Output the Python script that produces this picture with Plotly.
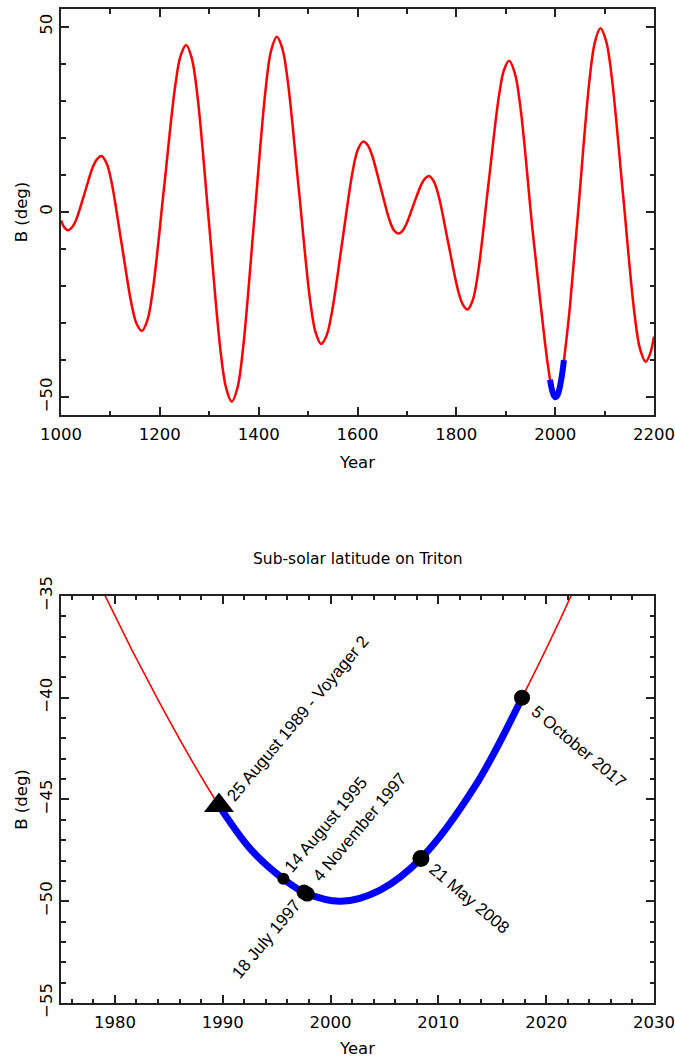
import plotly.graph_objects as go

# ---- Data ----
# Sub-solar latitude B (deg) on Triton vs year (red curve)
years = [1000, 1007, 1014, 1022.4, 1030.9, 1047.8, 1064.6, 1073.1,
         1081.5, 1091.8, 1102.1, 1122.6, 1143.2, 1153.4,
         1163.7, 1174.9, 1186.1, 1208.5, 1230.9, 1242.1,
         1253.3, 1264.8, 1276.4, 1299.5, 1322.5, 1334.1,
         1345.6, 1357.0, 1368.4, 1391.1, 1413.9, 1425.2,
         1436.6, 1447.8, 1459.0, 1481.4, 1503.8, 1515.0,
         1526.2, 1536.9, 1547.5, 1568.9, 1590.2, 1600.8,
         1611.5, 1620.4, 1629.3, 1647.0, 1664.8, 1673.6,
         1682.5, 1690.3, 1698.0, 1713.5, 1729.0, 1736.8,
         1744.5, 1754.3, 1764.1, 1783.6, 1803.2, 1812.9,
         1822.7, 1833.2, 1843.8, 1864.8, 1885.9, 1896.4,
         1906.9, 1918.7, 1930.4, 1954.0, 1970.0, 1979.1, 1984.2,
         1989.65, 1992.6, 1995.62, 1997.7, 2001.0, 2004.6, 2008.38, 2013.4, 2017.76,
         2022.3, 2030.0, 2046.3, 2069.0, 2080.3,
         2091.6, 2103.0, 2114.5, 2137.4, 2160.3, 2171.8,
         2183.2, 2192.0, 2200]
b_deg = [-2.3, -4.2, -4.9, -4.1, -2.0, 5.1, 12.2, 14.3,
         15.1, 13.3, 8.2, -8.5, -25.2, -30.3,
         -32.1, -29.2, -20.8, 6.5, 33.8, 42.2,
         45.1, 41.4, 31.0, -3.0, -37.1, -47.5,
         -51.2, -47.5, -36.8, -2.0, 32.9, 43.6,
         47.3, 44.2, 35.2, 5.9, -23.5, -32.4,
         -35.6, -33.5, -27.6, -8.3, 11.0, 16.9,
         19.0, 18.1, 15.4, 6.6, -2.2, -4.9,
         -5.8, -5.2, -3.5, 2.0, 7.4, 9.1,
         9.7, 8.3, 4.4, -8.3, -21.0, -24.9,
         -26.3, -23.8, -16.5, 7.3, 31.0, 38.3,
         40.8, 37.3, 27.5, -4.6, -24.2, -35.0, -40.3,
         -45.3, -47.45, -48.9, -49.6, -50.0, -49.45, -47.9, -44.35, -40.0,
         -35.0, -25.3, -0.2, 35.0, 45.8,
         49.6, 46.2, 36.4, 4.6, -27.2, -37.0,
         -40.4, -38.3, -33.6]

# Highlighted (blue) stretch: Voyager 2 flyby to October 2017
blue_years = [1989.65, 1992.6, 1995.62, 1997.7, 2001.0, 2004.6, 2008.38, 2013.4, 2017.76]
blue_b = [-45.3, -47.45, -48.9, -49.6, -50.0, -49.45, -47.9, -44.35, -40.0]

# Marked dates
event_years = [1989.65, 1995.62, 1997.54, 1997.84, 2008.38, 2017.76]
event_b = [-45.3, -48.9, -49.55, -49.65, -47.9, -40.0]
event_labels = ["25 August 1989 - Voyager 2", "14 August 1995", "18 July 1997",
                "4 November 1997", "21 May 2008", "5 October 2017"]
event_symbols = ["triangle-up", "circle", "circle", "circle", "circle", "circle"]
event_sizes = [26, 12, 15, 15, 17, 16]
# label placement (pixel offsets of label centre from the point, rotation)
label_dx = [79, 43, -38, 52, 48, 56]
label_dy = [-87, -54, 47, -67, 40, 49]
label_angle = [-50, -50, -50, -50, 40, 40]

TICKFONT = dict(family="DejaVu Sans", size=16.5, color="black")
FRAME = "#222222"

fig = go.Figure()

# top panel
fig.add_trace(go.Scatter(x=years, y=b_deg, mode="lines", xaxis="x", yaxis="y",
                         line=dict(color="#ff0000", width=2.5, shape="spline"),
                         showlegend=False, hoverinfo="skip"))
fig.add_trace(go.Scatter(x=blue_years, y=blue_b, mode="lines", xaxis="x", yaxis="y",
                         line=dict(color="#0000ff", width=6, shape="spline"),
                         showlegend=False, hoverinfo="skip"))

# bottom panel
fig.add_trace(go.Scatter(x=years, y=b_deg, mode="lines", xaxis="x2", yaxis="y2",
                         line=dict(color="#ff0000", width=1.6, shape="spline"),
                         showlegend=False, hoverinfo="skip"))
fig.add_trace(go.Scatter(x=blue_years, y=blue_b, mode="lines", xaxis="x2", yaxis="y2",
                         line=dict(color="#0000ff", width=7, shape="spline"),
                         showlegend=False, hoverinfo="skip"))
fig.add_trace(go.Scatter(x=event_years, y=event_b, mode="markers", xaxis="x2", yaxis="y2",
                         marker=dict(symbol=event_symbols, size=event_sizes, color="black",
                                     opacity=1, line=dict(width=0)),
                         showlegend=False, hoverinfo="skip"))

for yr, bv, lab, dx, dy, ang in zip(event_years, event_b, event_labels,
                                    label_dx, label_dy, label_angle):
    fig.add_annotation(x=yr, y=bv, xref="x2", yref="y2", text=lab,
                       showarrow=True, ax=dx, ay=dy, arrowcolor="rgba(0,0,0,0)",
                       arrowwidth=0.1, textangle=ang,
                       font=dict(family="Liberation Sans", size=17, color="black"))

fig.add_annotation(text="Sub-solar latitude on Triton", xref="paper", yref="paper",
                   x=0.5, y=0.4467, xanchor="center", yanchor="middle", showarrow=False,
                   font=dict(family="DejaVu Sans", size=15.5, color="black"))


def axis(**kw):
    base = dict(showline=True, linecolor=FRAME, linewidth=2, mirror="allticks",
                ticks="inside", ticklen=8, tickwidth=1.5, tickcolor=FRAME,
                showgrid=False, zeroline=False, tickfont=TICKFONT,
                title_font=TICKFONT, automargin=False)
    base.update(kw)
    return base


fig.update_layout(
    width=675, height=1058,
    margin=dict(l=61, r=21, t=9, b=55),
    paper_bgcolor="white", plot_bgcolor="white",
    hovermode=False,
    xaxis=axis(domain=[0, 1], anchor="y", range=[1000, 2200], tick0=1000, dtick=200,
               minor=dict(ticks="inside", dtick=100, ticklen=4.5, tickwidth=1.5,
                          tickcolor=FRAME, showgrid=False),
               ticklabelstandoff=3, title=dict(text="Year", standoff=14)),
    yaxis=axis(domain=[0.5915, 1], anchor="x", range=[-54.8, 54.8], tick0=0, dtick=50,
               minor=dict(ticks="inside", dtick=10, ticklen=4.5, tickwidth=1.5,
                          tickcolor=FRAME, showgrid=False),
               tickangle=-90, ticklabelstandoff=0,
               title=dict(text="B (deg)", standoff=6)),
    xaxis2=axis(domain=[0, 1], anchor="y2", range=[1975, 2030], tick0=1980, dtick=10,
                minor=dict(ticks="inside", dtick=2, ticklen=4.5, tickwidth=1.5,
                           tickcolor=FRAME, showgrid=False),
                ticklabelstandoff=3, title=dict(text="Year", standoff=14)),
    yaxis2=axis(domain=[0, 0.4095], anchor="x2", range=[-55, -35], tick0=-55, dtick=5,
                minor=dict(ticks="inside", dtick=1, ticklen=4.5, tickwidth=1.5,
                           tickcolor=FRAME, showgrid=False),
                tickangle=-90, ticklabelstandoff=0,
                title=dict(text="B (deg)", standoff=6)),
)

fig.write_html("out.html", config={"displayModeBar": False},
               post_script="document.body.style.margin='0px';document.body.style.padding='0px';")
